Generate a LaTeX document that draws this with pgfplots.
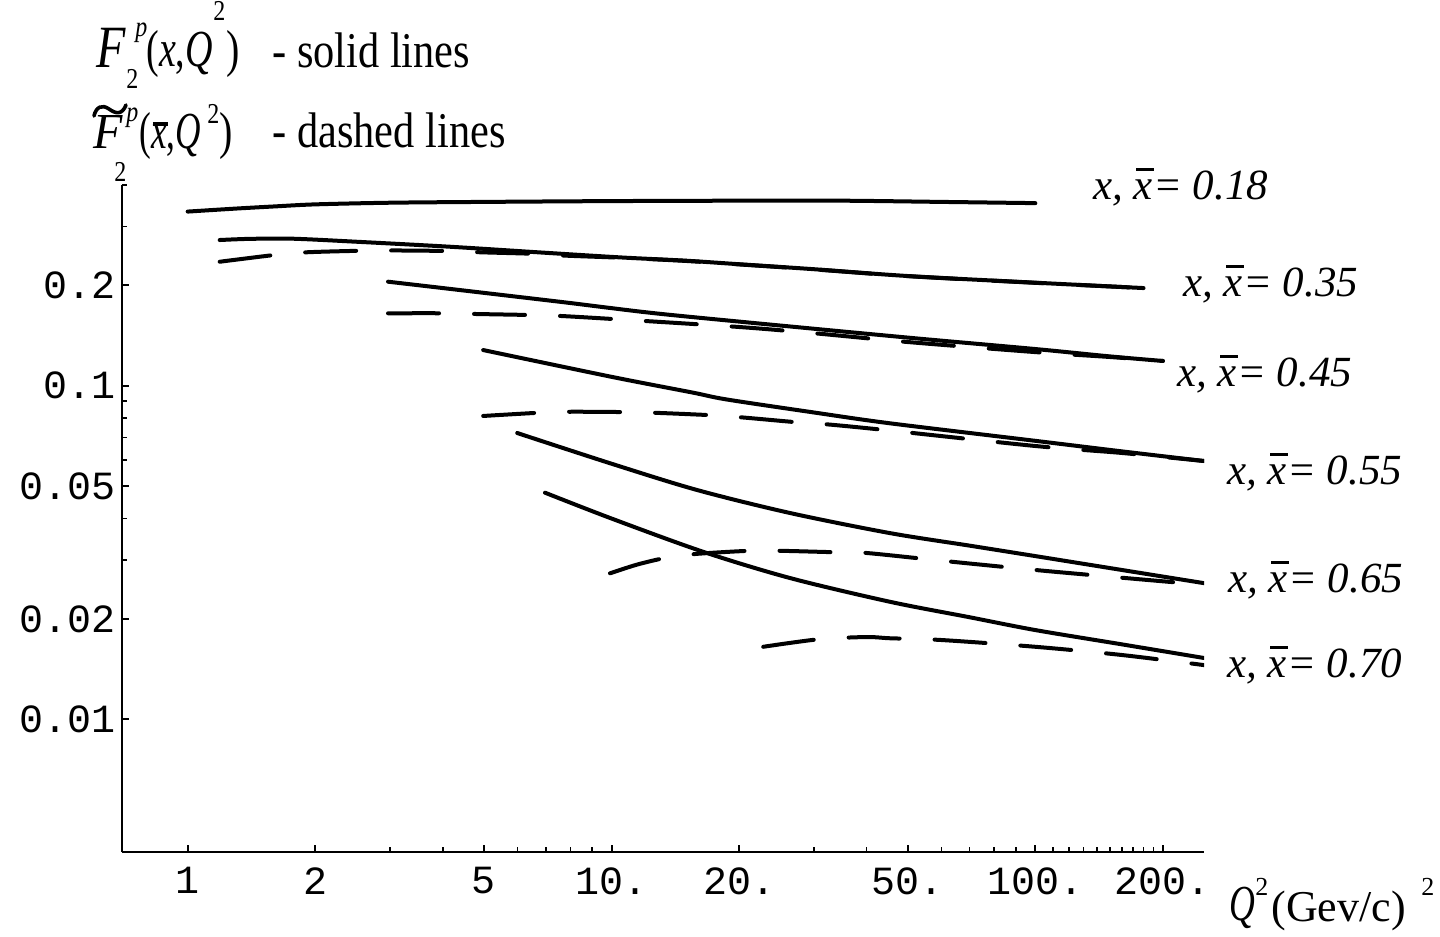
\documentclass[border=0pt]{standalone}
\usepackage{fontspec}
\setmainfont{Liberation Serif}
\newfontfamily\cour{Liberation Mono}
\usepackage{graphicx}
\usepackage{pgfplots}
\pgfplotsset{compat=1.18}
\newcommand\xb[1][0.68em]{\leavevmode\rlap{\hspace{0.05em}\rule[#1]{0.42em}{0.07em}}\textit{x}}
\newcommand\lab[1]{\fontsize{21.5bp}{21.5bp}\selectfont\itshape x, \xb= #1}
\newcommand\at[3]{\rlap{\hspace{#1bp}\raisebox{#2bp}{#3}}}
\newcommand\sm[1]{\scalebox{1}[1.2]{\fontsize{12bp}{12bp}\selectfont #1}}
\begin{document}
\begin{tikzpicture}
\path[use as bounding box] (0,0) rectangle (720bp,-468.5bp);
\begin{axis}[
  at={(61bp,-426bp)}, anchor=south west,
  scale only axis, width=541bp, height=333.5bp,
  xmode=log, ymode=log,
  xmin=0.7, xmax=250, ymin=0.004, ymax=0.4,
  axis x line*=bottom, axis y line*=left,
  axis line style={line width=1.4bp},
  xtick={1,2,5,10,20,50,100,200},
  xticklabels={1,2,5,10.,20.,50.,100.,200.},
  minor xtick={3,4,6,7,8,9,30,40,60,70,80,90,110,120,130,140,150,160,170,180,190},
  ytick={0.01,0.02,0.05,0.1,0.2},
  yticklabels={0.01,0.02,0.05,0.1,0.2},
  minor ytick={0.03,0.04,0.06,0.07,0.08,0.09,0.3,0.4},
  tick align=inside,
  xtick pos=bottom, ytick pos=left,
  major tick length=3.6bp, minor tick length=2.3bp,
  major tick style={line width=1bp, black},
  minor tick style={line width=0.8bp, black},
  tick label style={font=\cour\fontsize{20bp}{20bp}\selectfont, inner sep=0pt},
  xticklabel style={yshift=-7.5bp},
  yticklabel style={xshift=-3bp},
  sol/.style={black, line width=2bp, smooth, line cap=round},
  das/.style={black, line width=2bp, smooth, line cap=round, dash pattern=on 25.5bp off 17.5bp},
]
% x = 0.18
\addplot[sol] coordinates {(1,0.333) (1.3,0.340) (1.6,0.345) (2,0.350) (3,0.354) (5,0.356) (10,0.358) (20,0.359) (35,0.359) (60,0.356) (100,0.353)};
% x = 0.35
\addplot[sol] coordinates {(1.19,0.2736) (1.4,0.2758) (1.77,0.2761) (2.5,0.2704) (4.16,0.2612) (7,0.2505) (10.6,0.2425) (15,0.2372) (20,0.2315) (30,0.2237) (50,0.2134) (100,0.2038) (180,0.1964)};
\addplot[das] coordinates {(1.19,0.2355) (1.6,0.2467) (1.91,0.2514) (2.57,0.2541) (3.05,0.2546) (4.12,0.2536) (4.9,0.2514) (6.6,0.2487) (7.87,0.2455) (10.6,0.2420) (15,0.2368) (20,0.2312) (30,0.2234) (50,0.2132) (100,0.2036) (180,0.1964)};
% x = 0.45
\addplot[sol] coordinates {(2.97,0.2052) (4,0.1964) (5.98,0.185) (8,0.1771) (12.34,0.1656) (20,0.1558) (50,0.1395) (100,0.1289) (150,0.1225) (200,0.1187)};
\addplot[das] coordinates {(2.97,0.165) (4.05,0.165) (4.76,0.1642) (6.48,0.163) (7.63,0.1619) (10.4,0.1582) (20,0.1501) (30,0.1438) (50,0.1353) (100,0.1262) (150,0.122) (200,0.1187)};
% x = 0.55
\addplot[sol] coordinates {(4.98,0.128) (10,0.1064) (15.5,0.0955) (18.7,0.0910) (30,0.0832) (45.4,0.0772) (100,0.0684) (160,0.0636) (250,0.0595)};
\addplot[das] coordinates {(4.98,0.0812) (6.71,0.083) (7.99,0.0836) (10.77,0.0834) (12.67,0.083) (17.28,0.0816) (20.33,0.0804) (27.56,0.0777) (32.44,0.0766) (44.2,0.0737) (100,0.066) (160,0.0629) (250,0.0595)};
% x = 0.65
\addplot[sol] coordinates {(5.99,0.0722) (10,0.0584) (15.92,0.0487) (26.38,0.04155) (45.4,0.03617) (70,0.03317) (100,0.03086) (160,0.02804) (250,0.0256)};
\addplot[das] coordinates {(9.92,0.0274) (11.49,0.0291) (13.38,0.03046) (15.75,0.03131) (21.23,0.03202) (25.27,0.0320) (34.06,0.03168) (40.1,0.03152) (60,0.0299) (100,0.02804) (160,0.02658) (250,0.0253)};
% x = 0.70
\addplot[sol] coordinates {(6.97,0.0478) (10,0.0400) (16.45,0.0318) (26.38,0.02652) (45.4,0.02251) (70,0.02023) (100,0.01852) (160,0.01678) (250,0.01527)};
\addplot[das] coordinates {(22.8,0.0165) (30.73,0.01737) (40,0.01765) (45.4,0.0175) (60,0.01729) (100,0.0165) (160,0.01559) (250,0.01454)};
\end{axis}
\begin{scope}[x=0.5bp, y=-0.5bp, every node/.style={inner sep=0pt, anchor=base west}]
% curve labels
\node at (1093,200) {\lab{0.18}};
\node at (1183,297) {\lab{0.35}};
\node at (1177,387) {\lab{0.45}};
\node at (1227,485) {\lab{0.55}};
\node at (1228,593) {\lab{0.65}};
\node at (1227,678) {\lab{0.70}};
% axis label
\node at (1228,921) {\at{0}{0}{\scalebox{0.85}[1.2]{\fontsize{21bp}{21bp}\selectfont\textit{Q}}}%
  \at{13}{12.5}{\fontsize{13bp}{13bp}\selectfont 2}%
  \at{21}{-0.5}{\fontsize{22bp}{22bp}\selectfont (Gev/c)}%
  \at{96}{12.5}{\fontsize{13bp}{13bp}\selectfont 2}\hspace{102bp}};
% title line 1
\node at (95,67) {\at{0}{0}{\scalebox{1}[1.25]{\fontsize{24bp}{24bp}\selectfont\textit{F}}}%
  \at{19.5}{15.5}{\sm{\textit{p}}}%
  \at{15}{-10.5}{\sm{2}}%
  \at{25}{0}{\scalebox{0.95}[1.3]{\fontsize{20bp}{20bp}\selectfont (\textit{x},\textit{Q}}}%
  \at{58.5}{23.5}{\sm{2}}%
  \at{65}{0}{\scalebox{1}[1.3]{\fontsize{20bp}{20bp}\selectfont )}}\hspace{71bp}};
\node at (272,67) {\scalebox{1}[1.18]{\fontsize{21.2bp}{21.2bp}\selectfont - solid lines}};
% title line 2
\draw[line width=1.8bp, line cap=round] (94,116) .. controls (96,107) and (102,104) .. (109,109) .. controls (116,114) and (122,115) .. (126,105);
\node at (92,149) {\at{0}{0}{\scalebox{1}[1.05]{\fontsize{24bp}{24bp}\selectfont\textit{F}}}%
  \at{16.5}{13.5}{\sm{\textit{p}}}%
  \at{10.5}{-16.5}{\sm{2}}%
  \at{23}{0}{\scalebox{0.88}[1.3]{\fontsize{20bp}{20bp}\selectfont (\xb[0.44em],\textit{Q}}}%
  \at{57}{12.5}{\sm{2}}%
  \at{63}{0}{\scalebox{1}[1.3]{\fontsize{20bp}{20bp}\selectfont )}}\hspace{69bp}};
\node at (272,148) {\scalebox{1}[1.18]{\fontsize{21.2bp}{21.2bp}\selectfont - dashed lines}};
\end{scope}
\end{tikzpicture}
\end{document}
